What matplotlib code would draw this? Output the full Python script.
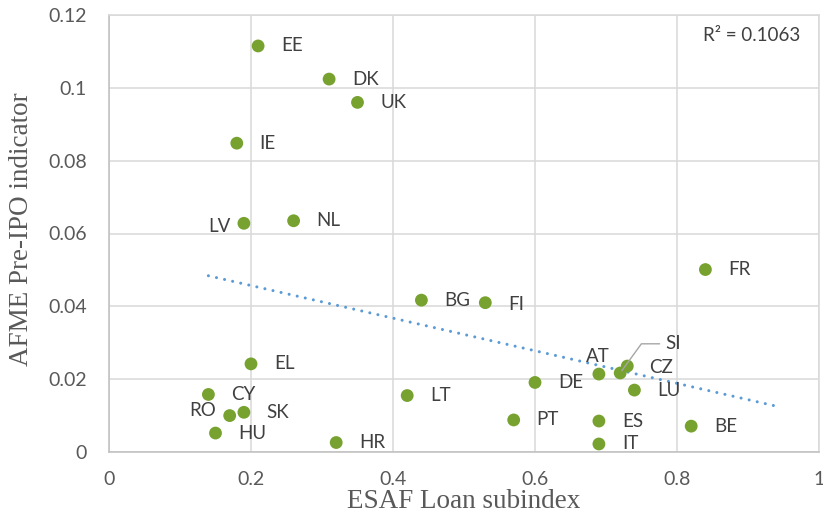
import numpy as np
import matplotlib
matplotlib.use("Agg")
import matplotlib.pyplot as plt

# ESAF Loan subindex vs AFME Pre-IPO indicator, one point per country
countries = ['EE', 'DK', 'UK', 'IE', 'LV', 'NL', 'FR', 'BG', 'FI', 'EL',
             'AT', 'SI', 'CZ', 'DE', 'LU', 'CY', 'LT', 'RO', 'SK', 'HU',
             'PT', 'ES', 'IT', 'BE', 'HR']
loan_subindex = [0.21, 0.31, 0.35, 0.18, 0.19, 0.26, 0.84, 0.44, 0.53, 0.20,
                 0.69, 0.72, 0.73, 0.60, 0.74, 0.14, 0.42, 0.17, 0.19, 0.15,
                 0.57, 0.69, 0.69, 0.82, 0.32]
pre_ipo = [0.1115, 0.1024, 0.0960, 0.0848, 0.0628, 0.0635, 0.0501, 0.0417,
           0.0410, 0.0242, 0.0214, 0.0217, 0.0236, 0.0191, 0.0170, 0.0158,
           0.0155, 0.0100, 0.0109, 0.0052, 0.0088, 0.0085, 0.0022, 0.0071,
           0.0026]
r2_text = "R² = 0.1063"
x_ticks = [0, 0.2, 0.4, 0.6, 0.8, 1]
x_tick_labels = ['0', '0.2', '0.4', '0.6', '0.8', '1']
y_ticks = [0, 0.02, 0.04, 0.06, 0.08, 0.1, 0.12]
y_tick_labels = ['0', '0.02', '0.04', '0.06', '0.08', '0.1', '0.12']

GREEN = '#77A22F'
BLUE = '#5B9BD5'
GRID = '#D9D9D9'
LABEL_FONT = 'Lato'
FS = 13.5

# label placement: (dx, dy in points, horizontal alignment)
default_offset = (16.5, 0, 'left')
label_offsets = {
    'LV': (-9.5, -2.4, 'right'),
    'RO': (-10, 4, 'right'),
    'AT': (-0.5, 13, 'center'),
    'CZ': (16, -1.2, 'left'),
    'FI': (16.5, -1, 'left'),
}

fig = plt.figure(figsize=(8.23, 5.2), dpi=100)
ax = fig.add_axes([109 / 823, 1 - 452 / 520, 710 / 823, 437 / 520])

ax.set_xlim(0, 1)
ax.set_ylim(0, 0.12)
ax.set_xticks(x_ticks)
ax.set_xticklabels(x_tick_labels)
ax.set_yticks(y_ticks)
ax.set_yticklabels(y_tick_labels)
ax.grid(True, color=GRID, linewidth=1.1)
ax.set_axisbelow(True)
for spine in ax.spines.values():
    spine.set_color(GRID)
    spine.set_linewidth(1.1)
ax.spines['bottom'].set_color('#BFBFBF')
ax.spines['left'].set_color('#BFBFBF')
ax.tick_params(axis='both', length=0, labelsize=14, colors='#595959')
ax.tick_params(axis='y', pad=16)
ax.tick_params(axis='x', pad=14)
for lab in ax.get_xticklabels() + ax.get_yticklabels():
    lab.set_family(LABEL_FONT)

# linear trendline (forecast forward 0.1 like the original)
xs = np.array(loan_subindex)
ys = np.array(pre_ipo)
slope, intercept = np.polyfit(xs, ys, 1)
tx = np.array([xs.min(), xs.max() + 0.1])
ax.plot(tx, slope * tx + intercept, color=BLUE, linewidth=2.2,
        linestyle=(0, (0.01, 2.7)), dash_capstyle='round', zorder=2)

ax.scatter(xs, ys, s=85, color=GREEN, edgecolors='none', zorder=3)

for name, x, y in zip(countries, loan_subindex, pre_ipo):
    if name == 'SI':
        ax.annotate(name, xy=(x, y), xytext=(38, 21), textcoords='offset points',
                    ha='center', va='center', fontsize=FS, family=LABEL_FONT,
                    color='#404040',
                    arrowprops=dict(arrowstyle='-', color='#A6A6A6', lw=1,
                                    shrinkA=2, shrinkB=2,
                                    connectionstyle='angle,angleA=0,angleB=54,rad=0'))
        continue
    dx, dy, ha = label_offsets.get(name, default_offset)
    ax.annotate(name, xy=(x, y), xytext=(dx, dy), textcoords='offset points',
                ha=ha, va='center', fontsize=FS, family=LABEL_FONT,
                color='#404040')

ax.text(0.973, 0.954, r2_text, transform=ax.transAxes, ha='right', va='center',
        fontsize=FS, family=LABEL_FONT, color='#404040')

ax.set_xlabel('ESAF Loan subindex', family='Liberation Serif', fontsize=19.5,
              color='#595959', labelpad=0)
ax.set_ylabel('AFME Pre-IPO indicator', family='Liberation Serif', fontsize=19.5,
              color='#595959', labelpad=0)
ax.xaxis.set_label_coords(0.5, -0.084)
ax.yaxis.set_label_coords(-0.106, 0.51)

fig.savefig('out.png', dpi=100)
